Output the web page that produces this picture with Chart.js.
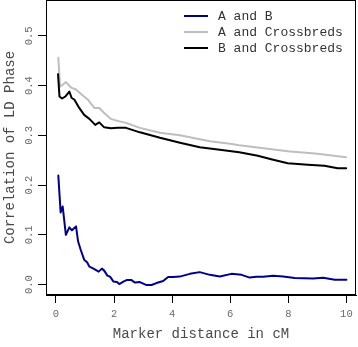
<!DOCTYPE html>
<html>
<head>
<meta charset="utf-8">
<script src="https://cdn.jsdelivr.net/npm/chart.js@4/dist/chart.umd.min.js"></script>
<style>
html,body{margin:0;padding:0;background:#fff;}
#wrap{width:358px;height:347px;position:relative;}
</style>
</head>
<body>
<div id="wrap"><canvas id="c" width="358" height="347"></canvas></div>
<script>
// ---- data ----
const seriesLabels = ["A and B", "A and Crossbreds", "B and Crossbreds"];
const seriesColors = ["#00008B", "#BEBEBE", "#000000"];

const abX = [0.08,0.16,0.23,0.34,0.46,0.55,0.69,0.76,0.85,0.97,1.07,1.15,1.26,1.38,1.47,1.58,1.66,1.77,1.86,1.98,2.10,2.18,2.32,2.43,2.60,2.72,2.89,3.12,3.29,3.46,3.69,3.86,4.03,4.26,4.61,4.95,5.30,5.64,6.04,6.39,6.67,6.90,7.13,7.48,7.82,8.22,8.85,9.20,9.60,10.0];
const abY = [0.219,0.145,0.157,0.100,0.115,0.109,0.117,0.087,0.070,0.050,0.045,0.036,0.033,0.029,0.026,0.032,0.028,0.018,0.016,0.006,0.005,0.001,0.006,0.009,0.009,0.004,0.005,-0.001,-0.001,0.003,0.007,0.015,0.015,0.016,0.0215,0.025,0.0195,0.016,0.0215,0.0195,0.014,0.0155,0.0155,0.0175,0.016,0.013,0.012,0.0135,0.0095,0.0095];

const acX = [0.08,0.14,0.24,0.34,0.52,0.69,0.86,1.09,1.32,1.49,1.66,1.89,2.12,2.41,2.89,3.58,4.27,4.61,5.30,5.99,6.31,7.29,7.98,9.01,9.99];
const acY = [0.456,0.398,0.402,0.407,0.396,0.392,0.383,0.372,0.355,0.355,0.345,0.333,0.329,0.325,0.315,0.305,0.300,0.296,0.288,0.283,0.280,0.273,0.268,0.263,0.256];

const bcX = [0.07,0.12,0.21,0.32,0.46,0.54,0.63,0.80,0.97,1.15,1.35,1.49,1.66,1.89,2.12,2.41,2.89,3.58,4.27,4.95,5.64,6.31,6.95,7.41,7.98,8.67,9.24,9.70,9.99];
const bcY = [0.423,0.378,0.374,0.378,0.388,0.375,0.372,0.355,0.341,0.333,0.321,0.326,0.316,0.314,0.315,0.315,0.306,0.295,0.285,0.276,0.271,0.266,0.259,0.252,0.244,0.241,0.239,0.234,0.234];

const xTicks = [0, 2, 4, 6, 8, 10];
const yTicks = [0.0, 0.1, 0.2, 0.3, 0.4, 0.5];
const xTitle = "Marker distance in cM";
const yTitle = "Correlation of LD Phase";

// ---- build ----
const pts = (xs, ys) => xs.map((x, i) => ({x: x, y: ys[i]}));
const FONT = "'Liberation Mono', 'DejaVu Sans Mono', monospace";

const boxPlugin = {
  id: 'boxAndLabels',
  afterDraw(chart) {
    const ctx = chart.ctx, a = chart.chartArea;
    ctx.save();
    ctx.strokeStyle = '#000';
    ctx.lineWidth = 1;
    ctx.strokeRect(Math.round(a.left) + 0.5, Math.round(a.top) + 0.5,
                   Math.round(a.right - a.left) - 1, Math.round(a.bottom - a.top) - 1);
    // rotated y tick labels
    const ys = chart.scales.y;
    ctx.fillStyle = '#6a6a6a';
    ctx.font = "10.5px " + FONT;
    ctx.textAlign = 'center';
    ctx.textBaseline = 'middle';
    ys.ticks.forEach(t => {
      const py = ys.getPixelForValue(t.value);
      ctx.save();
      ctx.translate(29, py);
      ctx.rotate(-Math.PI / 2);
      ctx.fillText(t.value.toFixed(1), 0, 0);
      ctx.restore();
    });
    // legend
    const lx0 = 184, lx1 = 208, tx = 218, ly0 = 16, dy = 16;
    ctx.font = "13px " + FONT;
    ctx.textAlign = 'left';
    ctx.textBaseline = 'middle';
    chart.data.datasets.forEach((ds, i) => {
      const y = ly0 + i * dy;
      ctx.strokeStyle = ds.borderColor;
      ctx.lineWidth = 2;
      ctx.beginPath();
      ctx.moveTo(lx0, y);
      ctx.lineTo(lx1, y);
      ctx.stroke();
      ctx.fillStyle = '#333';
      ctx.fillText(ds.label, tx, y + 0.5);
    });
    ctx.restore();
  }
};

const datasets = [
  {label: seriesLabels[0], data: pts(abX, abY), borderColor: seriesColors[0], order: 2},
  {label: seriesLabels[1], data: pts(acX, acY), borderColor: seriesColors[1], order: 1},
  {label: seriesLabels[2], data: pts(bcX, bcY), borderColor: seriesColors[2], order: 0}
].map(d => Object.assign(d, {borderWidth: 2, pointRadius: 0, tension: 0, fill: false,
                             borderJoinStyle: 'round', borderCapStyle: 'round'}));

new Chart(document.getElementById('c'), {
  type: 'line',
  data: {datasets: datasets},
  plugins: [boxPlugin],
  options: {
    responsive: false,
    animation: false,
    events: [],
    layout: {padding: {top: 0, right: 2, left: 0, bottom: 0}},
    plugins: {legend: {display: false}, tooltip: {enabled: false}},
    scales: {
      x: {
        type: 'linear',
        min: -0.344, max: 10.33,
        afterBuildTicks: s => { s.ticks = xTicks.map(v => ({value: v})); },
        afterFit: s => { s.height = 52; },
        border: {display: true, color: '#000', width: 1},
        grid: {drawOnChartArea: false, drawTicks: true, tickLength: 8, tickColor: '#000', tickWidth: 1},
        ticks: {color: '#6a6a6a', font: {family: FONT, size: 10.5}, padding: 5, maxRotation: 0, autoSkip: false},
        title: {display: true, text: xTitle, color: '#4a4a4a', font: {family: FONT, size: 14}, padding: {top: 0, bottom: 4}}
      },
      y: {
        type: 'linear',
        min: -0.021, max: 0.572,
        afterBuildTicks: s => { s.ticks = yTicks.map(v => ({value: v})); },
        afterFit: s => { s.width = 46; },
        border: {display: true, color: '#000', width: 1},
        grid: {drawOnChartArea: false, drawTicks: true, tickLength: 8, tickColor: '#000', tickWidth: 1},
        ticks: {display: false},
        title: {display: true, text: yTitle, color: '#4a4a4a', font: {family: FONT, size: 14}, padding: {top: 2, bottom: 0}}
      }
    }
  }
});
</script>
</body>
</html>
